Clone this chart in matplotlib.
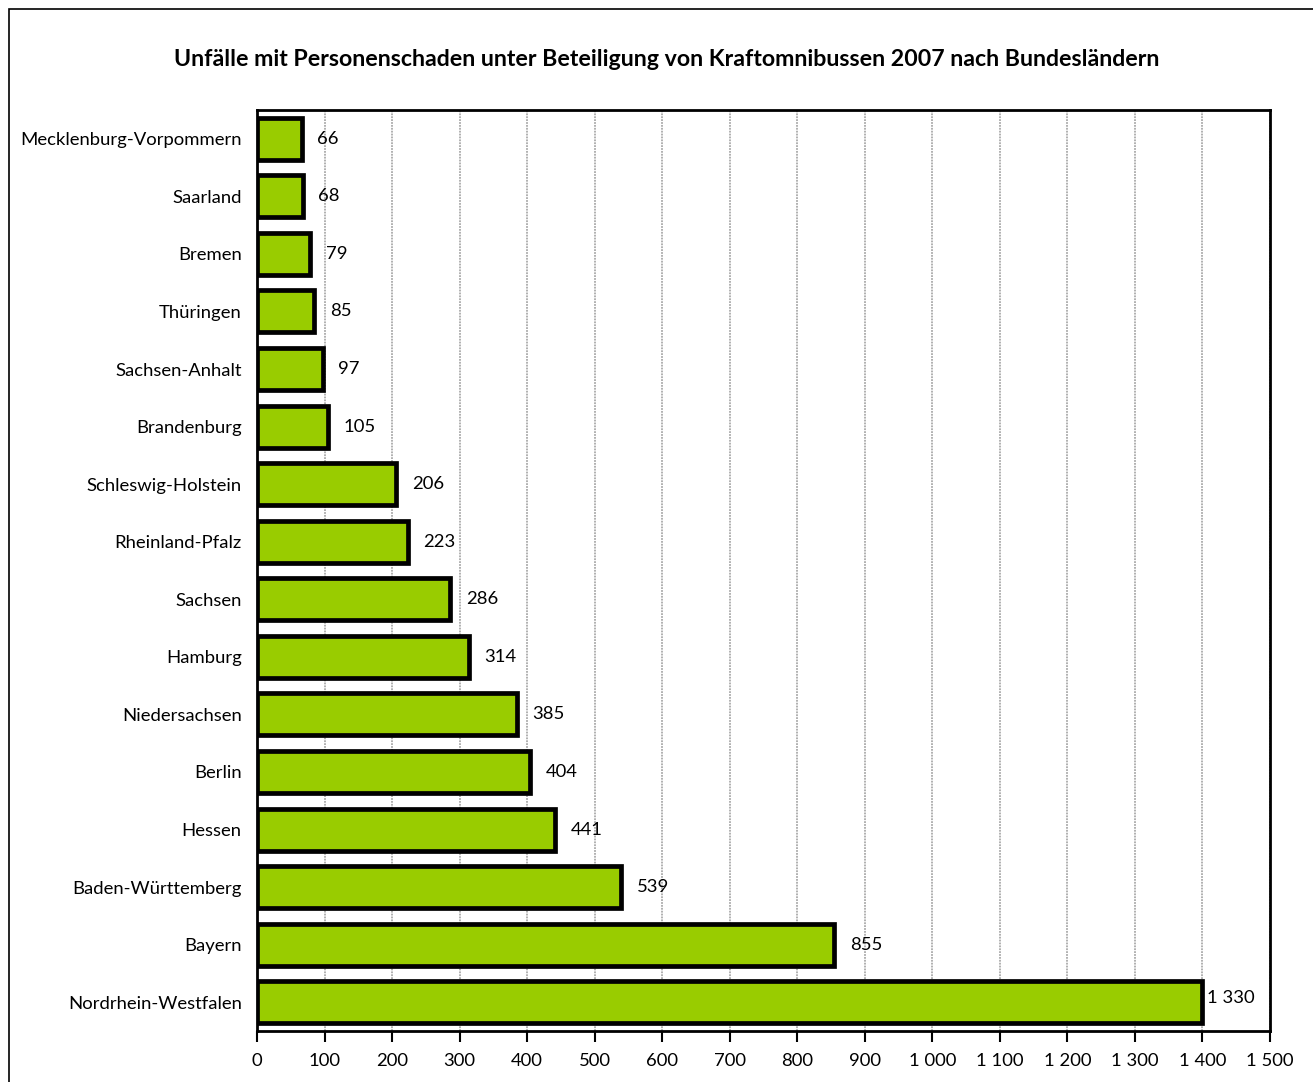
import matplotlib
matplotlib.use("Agg")
import matplotlib.pyplot as plt
from matplotlib.patches import Rectangle

# Daten (von oben nach unten)
laender = ["Mecklenburg-Vorpommern", "Saarland", "Bremen", "Thüringen",
           "Sachsen-Anhalt", "Brandenburg", "Schleswig-Holstein",
           "Rheinland-Pfalz", "Sachsen", "Hamburg", "Niedersachsen",
           "Berlin", "Hessen", "Baden-Württemberg", "Bayern",
           "Nordrhein-Westfalen"]
# Balkenlaenge wie im Bild (NRW-Balken ist im Original bis 1400 gezeichnet)
balken = [66, 68, 79, 85, 97, 105, 206, 223, 286, 314, 385, 404, 441, 539, 855, 1400]
beschriftung = ["66", "68", "79", "85", "97", "105", "206", "223", "286", "314",
                "385", "404", "441", "539", "855", "1 330"]
xticks = list(range(0, 1501, 100))
xticklabels = [f"{v:,}".replace(",", " ") for v in xticks]

plt.rcParams['font.family'] = ['Lato', 'DejaVu Sans']

fig = plt.figure(figsize=(13.13, 10.82), dpi=100)
ax = fig.add_axes([257/1313, 1-1031/1082, (1270-257)/1313, (1031-110)/1082])

# Rahmen um die Grafik
fig.patches.append(Rectangle((9/1313, -0.1), 1.2, 1.1 - 9/1082, transform=fig.transFigure,
                             fill=False, edgecolor="black", linewidth=1.2))

y = list(range(len(laender)))
ax.barh(y, balken, height=0.73, color="#99CC00", edgecolor="black", linewidth=3.4, zorder=3)

for i in y:
    if beschriftung[i] == "1 330":
        ax.text(balken[i] + 6, i - 0.08, beschriftung[i], va="center", ha="left", fontsize=13.3)
    else:
        ax.text(balken[i] + 23, i, beschriftung[i], va="center", ha="left", fontsize=13.3)

ax.set_xlim(0, 1500)
ax.set_ylim(len(laender) - 0.5, -0.5)
ax.set_yticks(y)
ax.set_yticklabels(laender, fontsize=13.3)
ax.tick_params(axis="y", length=0, pad=11)
ax.set_xticks(xticks)
ax.set_xticklabels(xticklabels, fontsize=13.3)
ax.tick_params(axis="x", length=8, width=1.5, pad=8, direction="out")
ax.grid(axis="x", color="#aaaaaa", linestyle=(0, (1, 0.6)), linewidth=1.3, zorder=0)
for s in ax.spines.values():
    s.set_linewidth(2)

fig.text(0.508, 1-59/1082, "Unfälle mit Personenschaden unter Beteiligung von Kraftomnibussen 2007 nach Bundesländern",
         ha="center", va="center", fontsize=16.7, fontweight="bold")

fig.savefig("out.png", dpi=100)
